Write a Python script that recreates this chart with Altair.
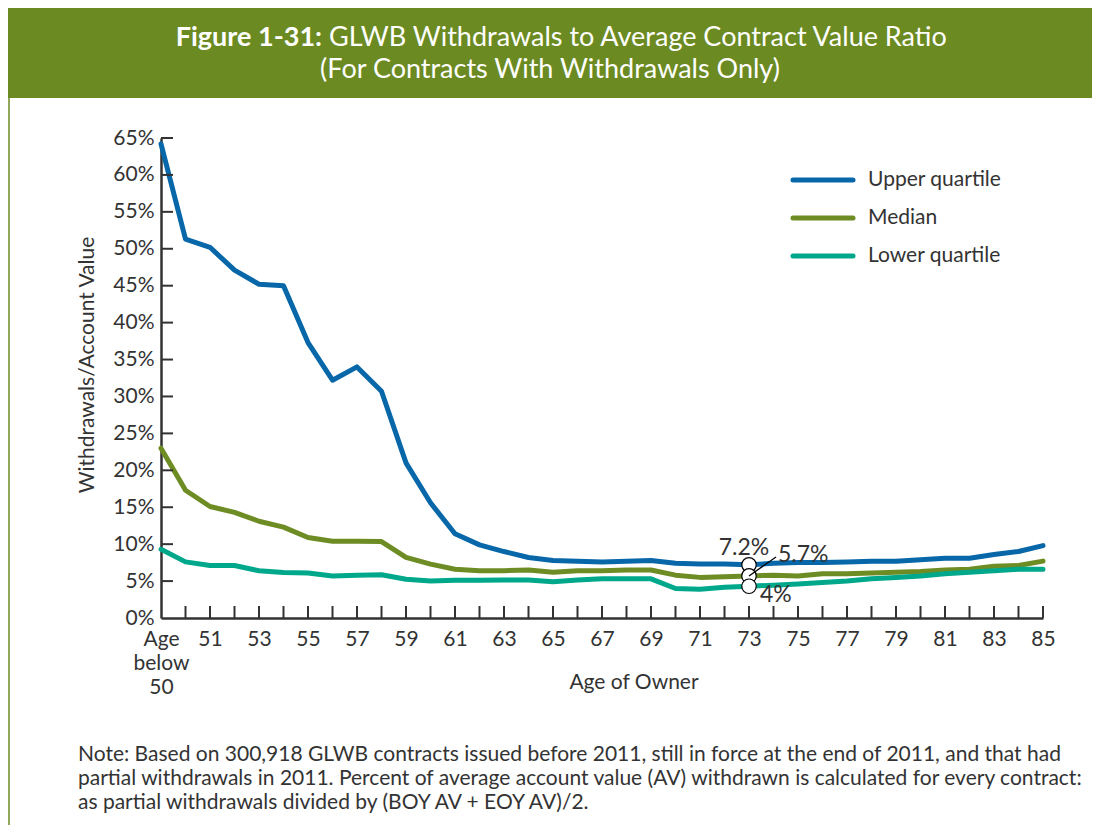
import altair as alt
import pandas as pd

# ---------------- data ----------------
ages = ["Age below 50"] + [str(a) for a in range(50, 86)]
upper = [64.2, 51.3, 50.2, 47.1, 45.2, 45.0, 37.3, 32.2, 34.0, 30.7, 21.0, 15.6, 11.4,
         9.9, 9.0, 8.2, 7.8, 7.7, 7.6, 7.7, 7.8, 7.4, 7.3, 7.3, 7.2, 7.4, 7.5, 7.5,
         7.6, 7.7, 7.7, 7.9, 8.1, 8.1, 8.6, 9.0, 9.8]
median = [23.0, 17.3, 15.1, 14.3, 13.1, 12.3, 10.9, 10.4, 10.4, 10.35, 8.2, 7.3, 6.6,
          6.4, 6.4, 6.5, 6.2, 6.4, 6.4, 6.5, 6.5, 5.8, 5.5, 5.6, 5.7, 5.8, 5.7, 6.0,
          6.0, 6.1, 6.2, 6.3, 6.5, 6.6, 7.0, 7.1, 7.7]
lower = [9.3, 7.6, 7.1, 7.1, 6.4, 6.15, 6.1, 5.7, 5.8, 5.85, 5.25, 5.0, 5.1, 5.1, 5.15,
         5.15, 4.9, 5.15, 5.3, 5.3, 5.3, 4.0, 3.9, 4.15, 4.3, 4.45, 4.6, 4.8, 5.0, 5.3,
         5.5, 5.7, 6.0, 6.2, 6.4, 6.6, 6.6]
series_names = ["Upper quartile", "Median", "Lower quartile"]
series_colors = ["#0767a8", "#6e8c24", "#00a88b"]
y_ticks = list(range(0, 70, 5))
ann_age = "73"
ann_labels = ["7.2%", "5.7%", "4%"]
title_bold = "Figure 1-31:"
title_rest = "GLWB Withdrawals to Average Contract Value Ratio"
title_line2 = "(For Contracts With Withdrawals Only)"
y_title = "Withdrawals/Account Value"
x_title = "Age of Owner"
note_lines = [
    "Note: Based on 300,918 GLWB contracts issued before 2011, still in force at the end of 2011, and that had",
    "partial withdrawals in 2011. Percent of average account value (AV) withdrawn is calculated for every contract:",
    "as partial withdrawals divided by (BOY AV + EOY AV)/2.",
]

rows = []
for name, vals in zip(series_names, [upper, median, lower]):
    for a, v in zip(ages, vals):
        rows.append({"age": a, "value": v, "series": name})
df = pd.DataFrame(rows)

# ---------------- layout ----------------
W, H = 882, 480
PL, PT = 153, 130
PR = 1084 - PL - W
PB = 817 - PT - H
FONT = "Lato"
TXT = "#333333"
BANNER = "#6c8a22"
dummy = pd.DataFrame({"a": [0]})

xs = alt.Scale(type="point", padding=0)
ys = alt.Scale(domain=[0, 65], nice=False, zero=True)

x_axis = alt.Axis(
    labelExpr="datum.value == 'Age below 50' ? ['Age','below','50'] : (toNumber(datum.value) % 2 == 1 ? datum.value : '')",
    labelAngle=0, ticks=False, labelPadding=10, labelOverlap=False, labelFlush=False,
    labelFontSize=21, labelLineHeight=24, labelBaseline="top", grid=False, title=None,
)
y_axis = alt.Axis(values=y_ticks, labelExpr="datum.value + '%'", ticks=False, tickCount=14,
                  labelPadding=7, labelFontSize=21, labelOverlap=False, labelBound=False,
                  grid=False, title=None)


def X():
    return alt.X("age:N", sort=ages, scale=xs, axis=x_axis)


def Y():
    return alt.Y("value:Q", scale=ys, axis=y_axis)


lines = alt.Chart(df).mark_line(strokeWidth=5, strokeCap="round", strokeJoin="round").encode(
    x=X(), y=Y(),
    color=alt.Color("series:N", scale=alt.Scale(domain=series_names, range=series_colors), legend=None),
    detail="series:N",
)

xt = alt.Chart(pd.DataFrame({"age": ages[1:]})).mark_rule(color=TXT, strokeWidth=2).encode(
    x=X(), y=alt.value(H), y2=alt.value(H - 12))
yt = alt.Chart(pd.DataFrame({"value": y_ticks[1:]})).mark_rule(color=TXT, strokeWidth=2).encode(
    y=Y(), x=alt.value(0), x2=alt.value(12))

# legend
leg = []
for i, (n, c) in enumerate(zip(series_names, series_colors)):
    yy = 42 + 38 * i
    leg.append(alt.Chart(dummy).mark_rule(color=c, strokeWidth=5, strokeCap="round").encode(
        x=alt.value(632), x2=alt.value(692), y=alt.value(yy)))
    leg.append(alt.Chart(dummy).mark_text(text=n, align="left", baseline="middle", font=FONT,
                                          fontSize=21, color=TXT).encode(
        x=alt.value(707), y=alt.value(yy)))

# annotation
ann = df[df.age == ann_age].copy()
ann["label"] = ann_labels
circles = alt.Chart(ann).mark_point(shape="circle", filled=True, fill="white", stroke="black",
                                    strokeWidth=1.2, size=210, opacity=1).encode(x=X(), y=Y())
leader = alt.Chart(ann[ann.series == "Median"]).mark_rule(color="black", strokeWidth=1.3,
                                                         x2Offset=27, y2Offset=-19).encode(
    x=X(), y=Y(), x2=alt.X2("age:N"), y2=alt.Y2("value:Q"))
ann_specs = [("Upper quartile", "center", -5, -10),
             ("Median", "left", 29, -14),
             ("Lower quartile", "left", 11, 16)]
ann_txt = []
for s, al, dx, dy in ann_specs:
    ann_txt.append(alt.Chart(ann[ann.series == s]).mark_text(
        align=al, baseline="alphabetic", dx=dx, dy=dy, font=FONT, fontSize=23, color=TXT).encode(
        x=X(), y=Y(), text="label:N"))

# frame / titles
banner = alt.Chart(dummy).mark_rect(color=BANNER).encode(
    x=alt.value(-PL), x2=alt.value(W + PR), y=alt.value(-PT), y2=alt.value(-40))
border = alt.Chart(dummy).mark_rule(color=BANNER, strokeWidth=1.5).encode(
    x=alt.value(-PL + 1), y=alt.value(-40), y2=alt.value(H + PB))
t1 = alt.Chart(dummy).mark_text(text=title_bold, align="right", baseline="middle", font=FONT,
                                fontSize=27, fontWeight="bold", color="white").encode(
    x=alt.value(161), y=alt.value(-100))
t2 = alt.Chart(dummy).mark_text(text=title_rest, align="left", baseline="middle", font=FONT,
                                fontSize=27, color="white").encode(
    x=alt.value(168), y=alt.value(-100))
t3 = alt.Chart(dummy).mark_text(text=title_line2, align="center", baseline="middle", font=FONT,
                                fontSize=27, color="white").encode(
    x=alt.value(389), y=alt.value(-68))
yti = alt.Chart(dummy).mark_text(text=y_title, angle=270, align="center", baseline="middle",
                                 font=FONT, fontSize=21, color=TXT).encode(
    x=alt.value(-73), y=alt.value(227))
xti = alt.Chart(dummy).mark_text(text=x_title, align="center", baseline="middle",
                                 font=FONT, fontSize=21, color=TXT).encode(
    x=alt.value(473), y=alt.value(545))
note = alt.Chart(dummy).mark_text(text=note_lines, align="left", baseline="top", lineHeight=24,
                                  font=FONT, fontSize=21, color=TXT).encode(
    x=alt.value(-83), y=alt.value(606))

chart = alt.layer(
    banner, border, t1, t2, t3, yti, xti, note,
    lines, xt, yt, *leg, circles, leader, *ann_txt,
).properties(
    width=W, height=H,
    autosize=alt.AutoSizeParams(type="none"),
    padding={"left": PL, "top": PT, "right": PR, "bottom": PB},
).configure_view(stroke=None).configure_axis(
    labelFont=FONT, labelColor=TXT, domainColor=TXT, domainWidth=2.5,
)

chart.save("out.html", embed_options={"renderer": "svg", "actions": False})
